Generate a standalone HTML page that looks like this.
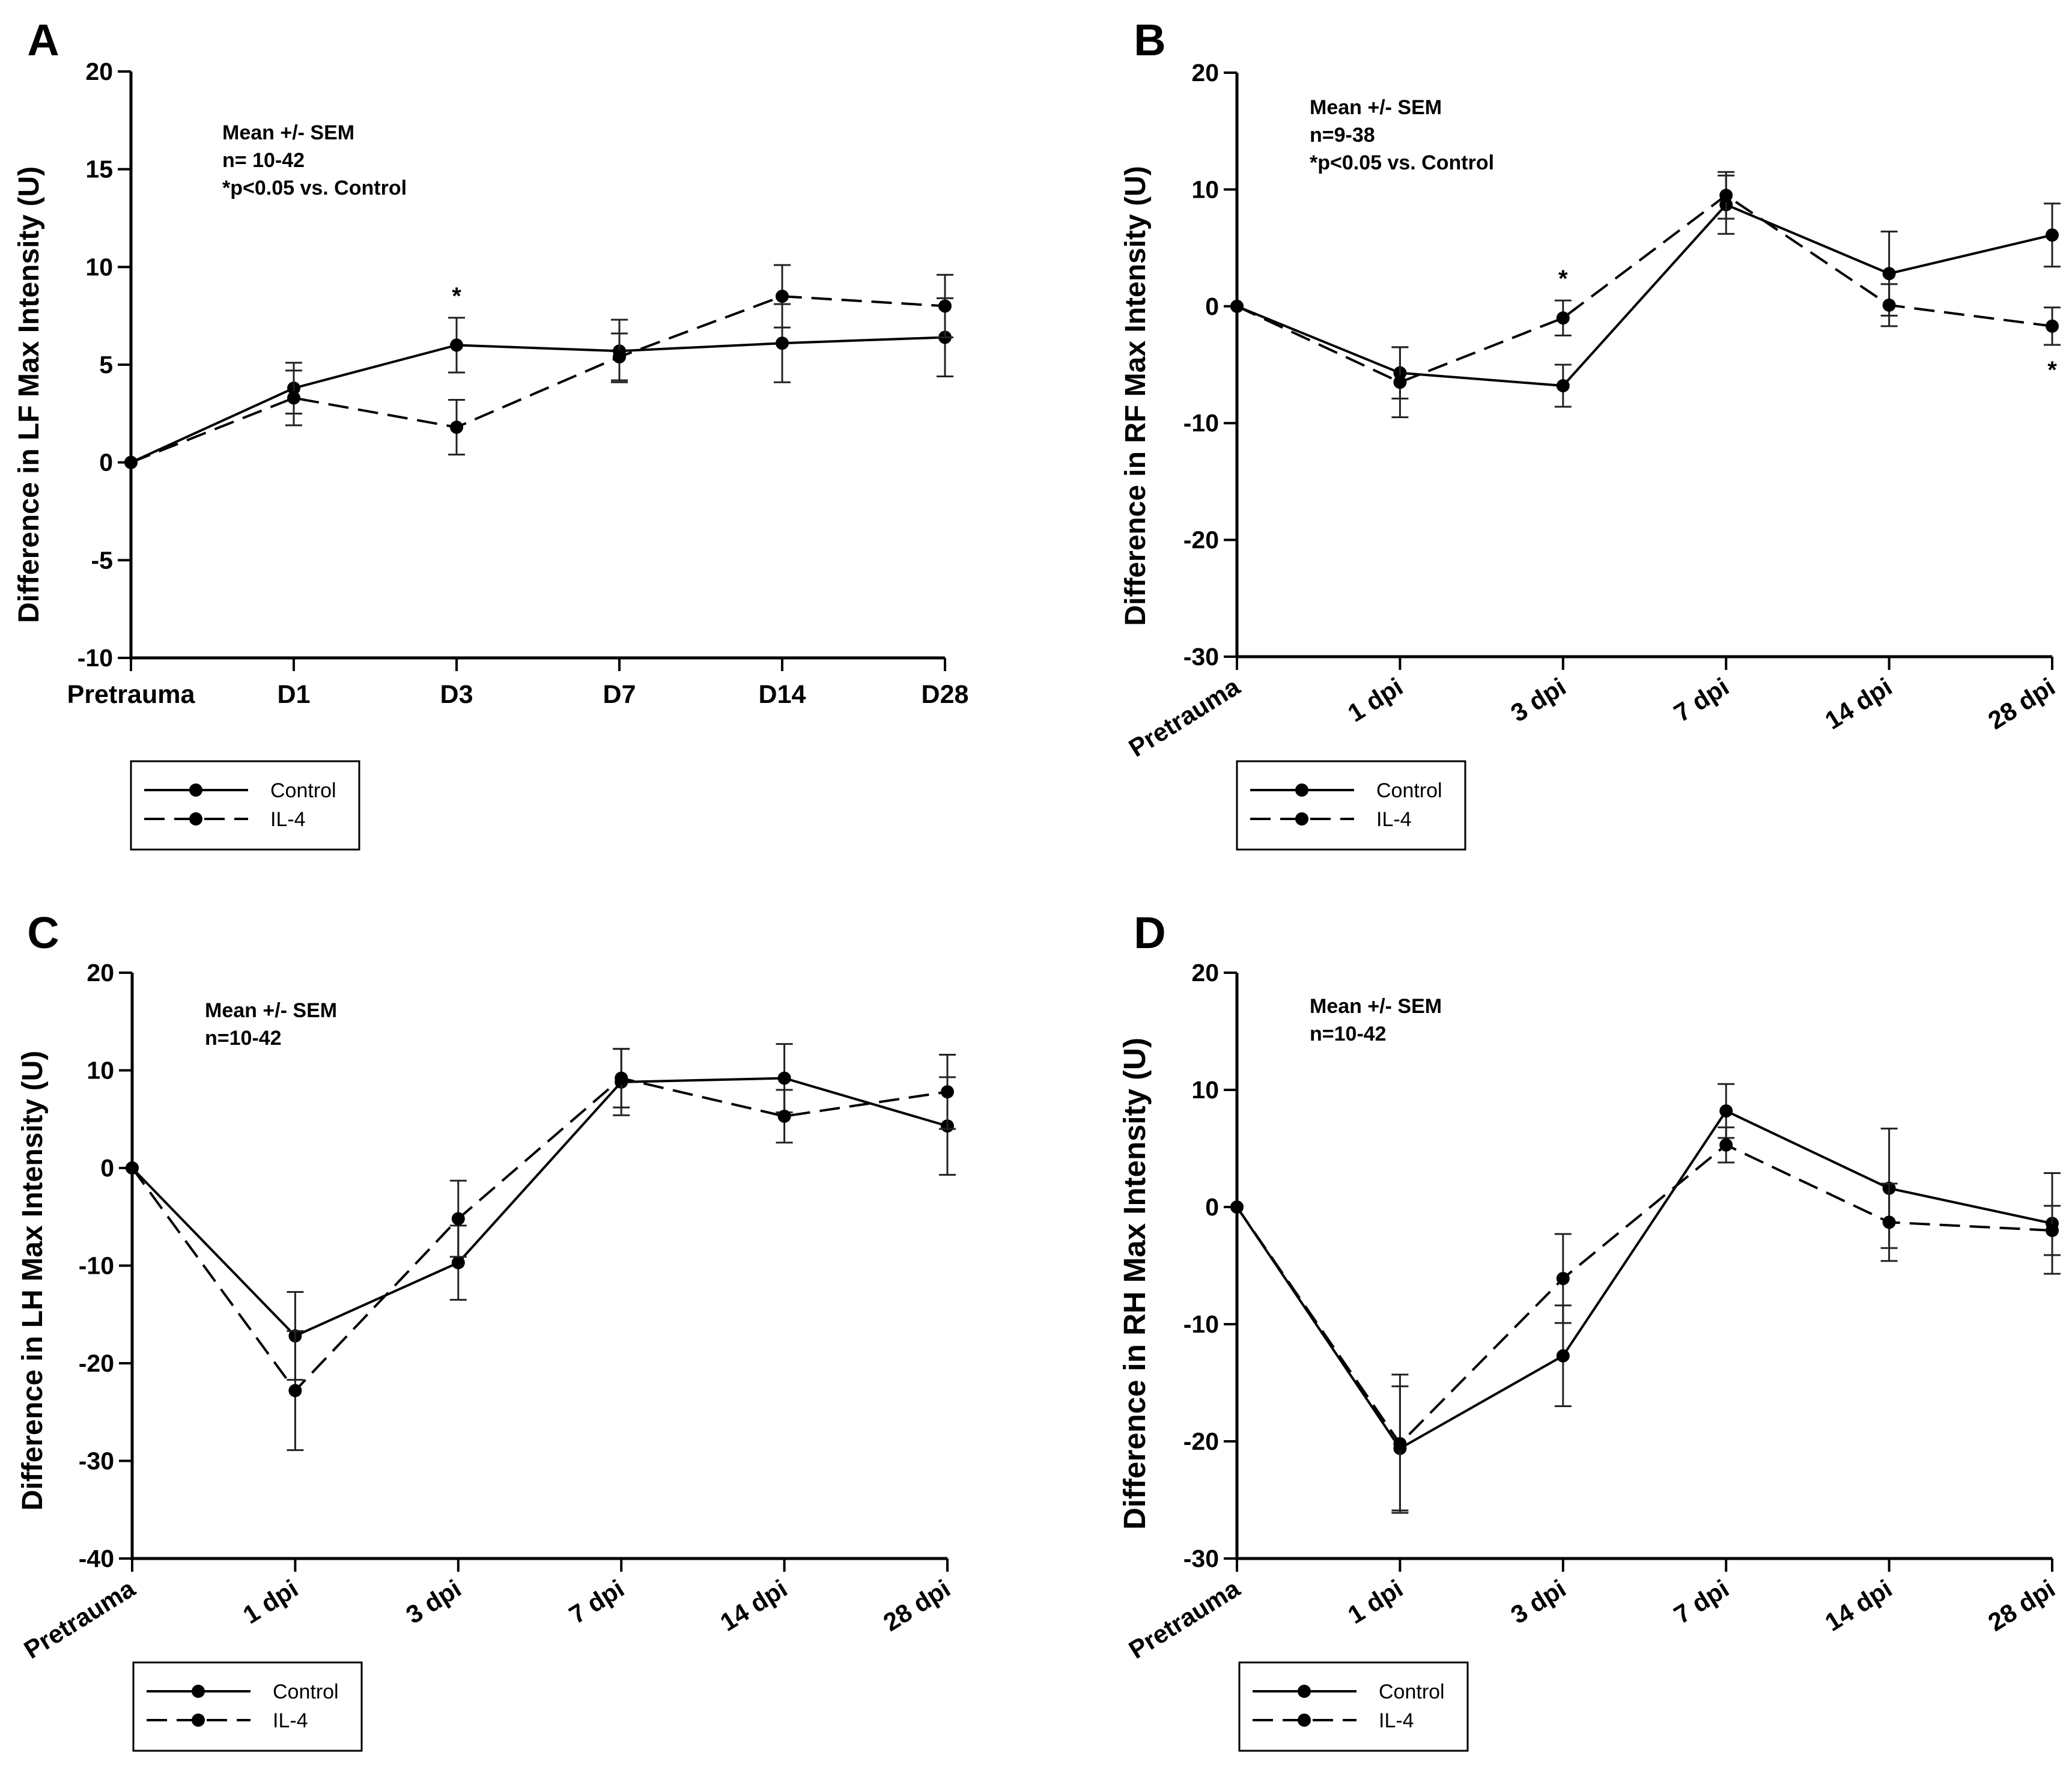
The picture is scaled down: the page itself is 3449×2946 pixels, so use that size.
<!DOCTYPE html>
<html><head><meta charset="utf-8">
<style>
html,body{margin:0;padding:0;background:#fff;}
svg{display:block;font-family:"Liberation Sans",Arial,sans-serif;}
</style></head>
<body>
<svg id="fig" width="3449" height="2946" viewBox="0 0 3449 2946" xmlns="http://www.w3.org/2000/svg"></svg>
<script>
// ---- data ----
const categoriesA = ["Pretrauma","D1","D3","D7","D14","D28"];
const categoriesDpi = ["Pretrauma","1 dpi","3 dpi","7 dpi","14 dpi","28 dpi"];

const ticksA = [-10,-5,0,5,10,15,20];
const ticksB = [-30,-20,-10,0,10,20];
const ticksC = [-40,-30,-20,-10,0,10,20];
const ticksD = [-30,-20,-10,0,10,20];

const controlA = [0,3.8,6.0,5.7,6.1,6.4];
const controlAerr = [0,1.3,1.4,1.6,2.0,2.0];
const il4A = [0,3.3,1.8,5.4,8.5,8.0];
const il4Aerr = [0,1.4,1.4,1.2,1.6,1.6];

const controlB = [0,-5.7,-6.8,8.7,2.8,6.1];
const controlBerr = [0,2.2,1.8,2.5,3.6,2.7];
const il4B = [0,-6.5,-1.0,9.5,0.1,-1.7];
const il4Berr = [0,3.0,1.5,2.0,1.8,1.6];

const controlC = [0,-17.2,-9.7,8.8,9.2,4.3];
const controlCerr = [0,4.5,3.8,3.4,3.5,5.0];
const il4C = [0,-22.8,-5.2,9.2,5.3,7.8];
const il4Cerr = [0,6.1,3.9,3.0,2.7,3.8];

const controlD = [0,-20.6,-12.7,8.2,1.6,-1.4];
const controlDerr = [0,5.3,4.3,2.3,5.1,4.3];
const il4D = [0,-20.2,-6.1,5.3,-1.3,-2.0];
const il4Derr = [0,5.9,3.8,1.5,3.3,2.1];

const NS="http://www.w3.org/2000/svg";
const svg=document.getElementById('fig');
function mk(tag,attrs,parent){const e=document.createElementNS(NS,tag);for(const k in attrs)e.setAttribute(k,attrs[k]);(parent||svg).appendChild(e);return e;}

function panel(o){
  const g=mk('g',{});
  
  
  const ymin=o.ticks[0], ymax=o.ticks[o.ticks.length-1];
  const sy=v=>o.y1+(ymax-v)/(ymax-ymin)*(o.y0-o.y1);
  const sx=i=>o.x0+i*(o.x1-o.x0)/(o.cats.length-1);
  const ax=mk('path',{d:`M${o.x0} ${o.y1}V${o.y0}H${o.x1}`,stroke:'#000','stroke-width':5,fill:'none'},g);
  
  
  o.ticks.forEach(t=>{
    const y=sy(t);
    mk('line',{x1:o.x0-22,x2:o.x0,y1:y,y2:y,stroke:'#000','stroke-width':4},g);
    const tx=mk('text',{x:o.x0-30,y:y+14,'text-anchor':'end','font-size':41,'font-weight':'bold'},g);
    tx.textContent=t;
    
    
  });
  o.cats.forEach((c,i)=>{
    const x=sx(i);
    mk('line',{x1:x,x2:x,y1:o.y0,y2:o.y0+22,stroke:'#000','stroke-width':4},g);
    let tx;
    if(o.rot){
      tx=mk('text',{x:x+8,y:o.y0+58,'text-anchor':'end','font-size':42,'font-weight':'bold',transform:`rotate(-32 ${x+8} ${o.y0+58})`},g);
    }else{
      tx=mk('text',{x:x,y:o.y0+75,'text-anchor':'middle','font-size':43,'font-weight':'bold'},g);
    }
    tx.textContent=c;
    
    
  });
  const cy=(o.y0+o.y1)/2+o.tdy;
  const yt=mk('text',{x:o.tx,y:cy,'text-anchor':'middle','font-size':o.tfs||48,'font-weight':'bold',transform:`rotate(-90 ${o.tx} ${cy})`},g);
  yt.textContent=o.title;
  
  
  const lt=mk('text',{x:o.lx,y:o.ly,'text-anchor':'middle','font-size':74,'font-weight':'bold'},g);
  lt.textContent=o.letter;
  
  
  o.notes.forEach((n,i)=>{
    const t=mk('text',{x:o.nx,y:o.ny+i*46,'font-size':34,'font-weight':'bold'},g);
    t.textContent=n;
    
    
  });
  const series=[[o.ctl,o.ctlErr,'none','control'],[o.il4,o.il4Err,'34 16','il-4']];
  series.forEach(([vals,errs,dash,nm])=>{
    vals.forEach((v,i)=>{
      if(!errs[i])return;
      const x=sx(i);
      const eb=mk('path',{d:`M${x} ${sy(v-errs[i])}V${sy(v+errs[i])}M${x-14} ${sy(v-errs[i])}h28M${x-14} ${sy(v+errs[i])}h28`,stroke:'#222','stroke-width':3,fill:'none'},g);
      
      
    });
    const d=vals.map((v,i)=>(i?'L':'M')+sx(i)+' '+sy(v)).join('');
    const ln=mk('path',{d:d,stroke:'#000','stroke-width':4,fill:'none','stroke-dasharray':dash},g);
    
    
    vals.forEach((v,i)=>{
      const p=mk('circle',{cx:sx(i),cy:sy(v),r:11,fill:'#000'},g);
      
      
    });
  });
  (o.stars||[]).forEach(s=>{
    const t=mk('text',{x:sx(s[0]),y:sy(s[1])+16,'text-anchor':'middle','font-size':40,'font-weight':'bold'},g);
    t.textContent='*';
    
    
  });
  const L=mk('g',{},g);
  
  
  mk('rect',{x:o.legx,y:o.legy,width:380,height:147,fill:'#fff',stroke:'#000','stroke-width':3},L);
  [['Control','none',48],['IL-4','34 16',96]].forEach(([lab,dash,dy])=>{
    mk('line',{x1:o.legx+22,x2:o.legx+195,y1:o.legy+dy,y2:o.legy+dy,stroke:'#000','stroke-width':4,'stroke-dasharray':dash},L);
    mk('circle',{cx:o.legx+108,cy:o.legy+dy,r:11,fill:'#000'},L);
    const t=mk('text',{x:o.legx+232,y:o.legy+dy+12,'font-size':34},L);
    t.textContent=lab;
    
    
  });
}

panel({letter:'A',lx:72,ly:92,x0:218,x1:1573,y0:1095,y1:119,ticks:ticksA,cats:categoriesA,rot:false,
  title:'Difference in LF Max Intensity (U)',tx:64,tdy:50,
  notes:['Mean +/- SEM','n= 10-42','*p<0.05 vs. Control'],nx:370,ny:232,
  ctl:controlA,ctlErr:controlAerr,il4:il4A,il4Err:il4Aerr,stars:[[2,8.6]],legx:218,legy:1267});
panel({letter:'B',lx:1914,ly:92,x0:2059,x1:3416,y0:1093,y1:121,ticks:ticksB,cats:categoriesDpi,rot:true,
  title:'Difference in RF Max Intensity (U)',tx:1906,tdy:52,
  notes:['Mean +/- SEM','n=9-38','*p<0.05 vs. Control'],nx:2180,ny:190,
  ctl:controlB,ctlErr:controlBerr,il4:il4B,il4Err:il4Berr,stars:[[2,2.5],[5,-5.3]],legx:2059,legy:1267});
panel({letter:'C',lx:72,ly:1578,x0:220,x1:1577,y0:2594,y1:1619,ticks:ticksC,cats:categoriesDpi,rot:true,
  title:'Difference in LH Max Intensity (U)',tx:70,tdy:25,
  notes:['Mean +/- SEM','n=10-42'],nx:341,ny:1693,
  ctl:controlC,ctlErr:controlCerr,il4:il4C,il4Err:il4Cerr,legx:222,legy:2767});
panel({letter:'D',lx:1914,ly:1578,x0:2059,x1:3416,y0:2594,y1:1619,ticks:ticksD,cats:categoriesDpi,rot:true,
  title:'Difference in RH Max Intensity (U)',tx:1906,tdy:30,tfs:51,
  notes:['Mean +/- SEM','n=10-42'],nx:2180,ny:1686,
  ctl:controlD,ctlErr:controlDerr,il4:il4D,il4Err:il4Derr,legx:2063,legy:2767});
</script>
</body></html>
